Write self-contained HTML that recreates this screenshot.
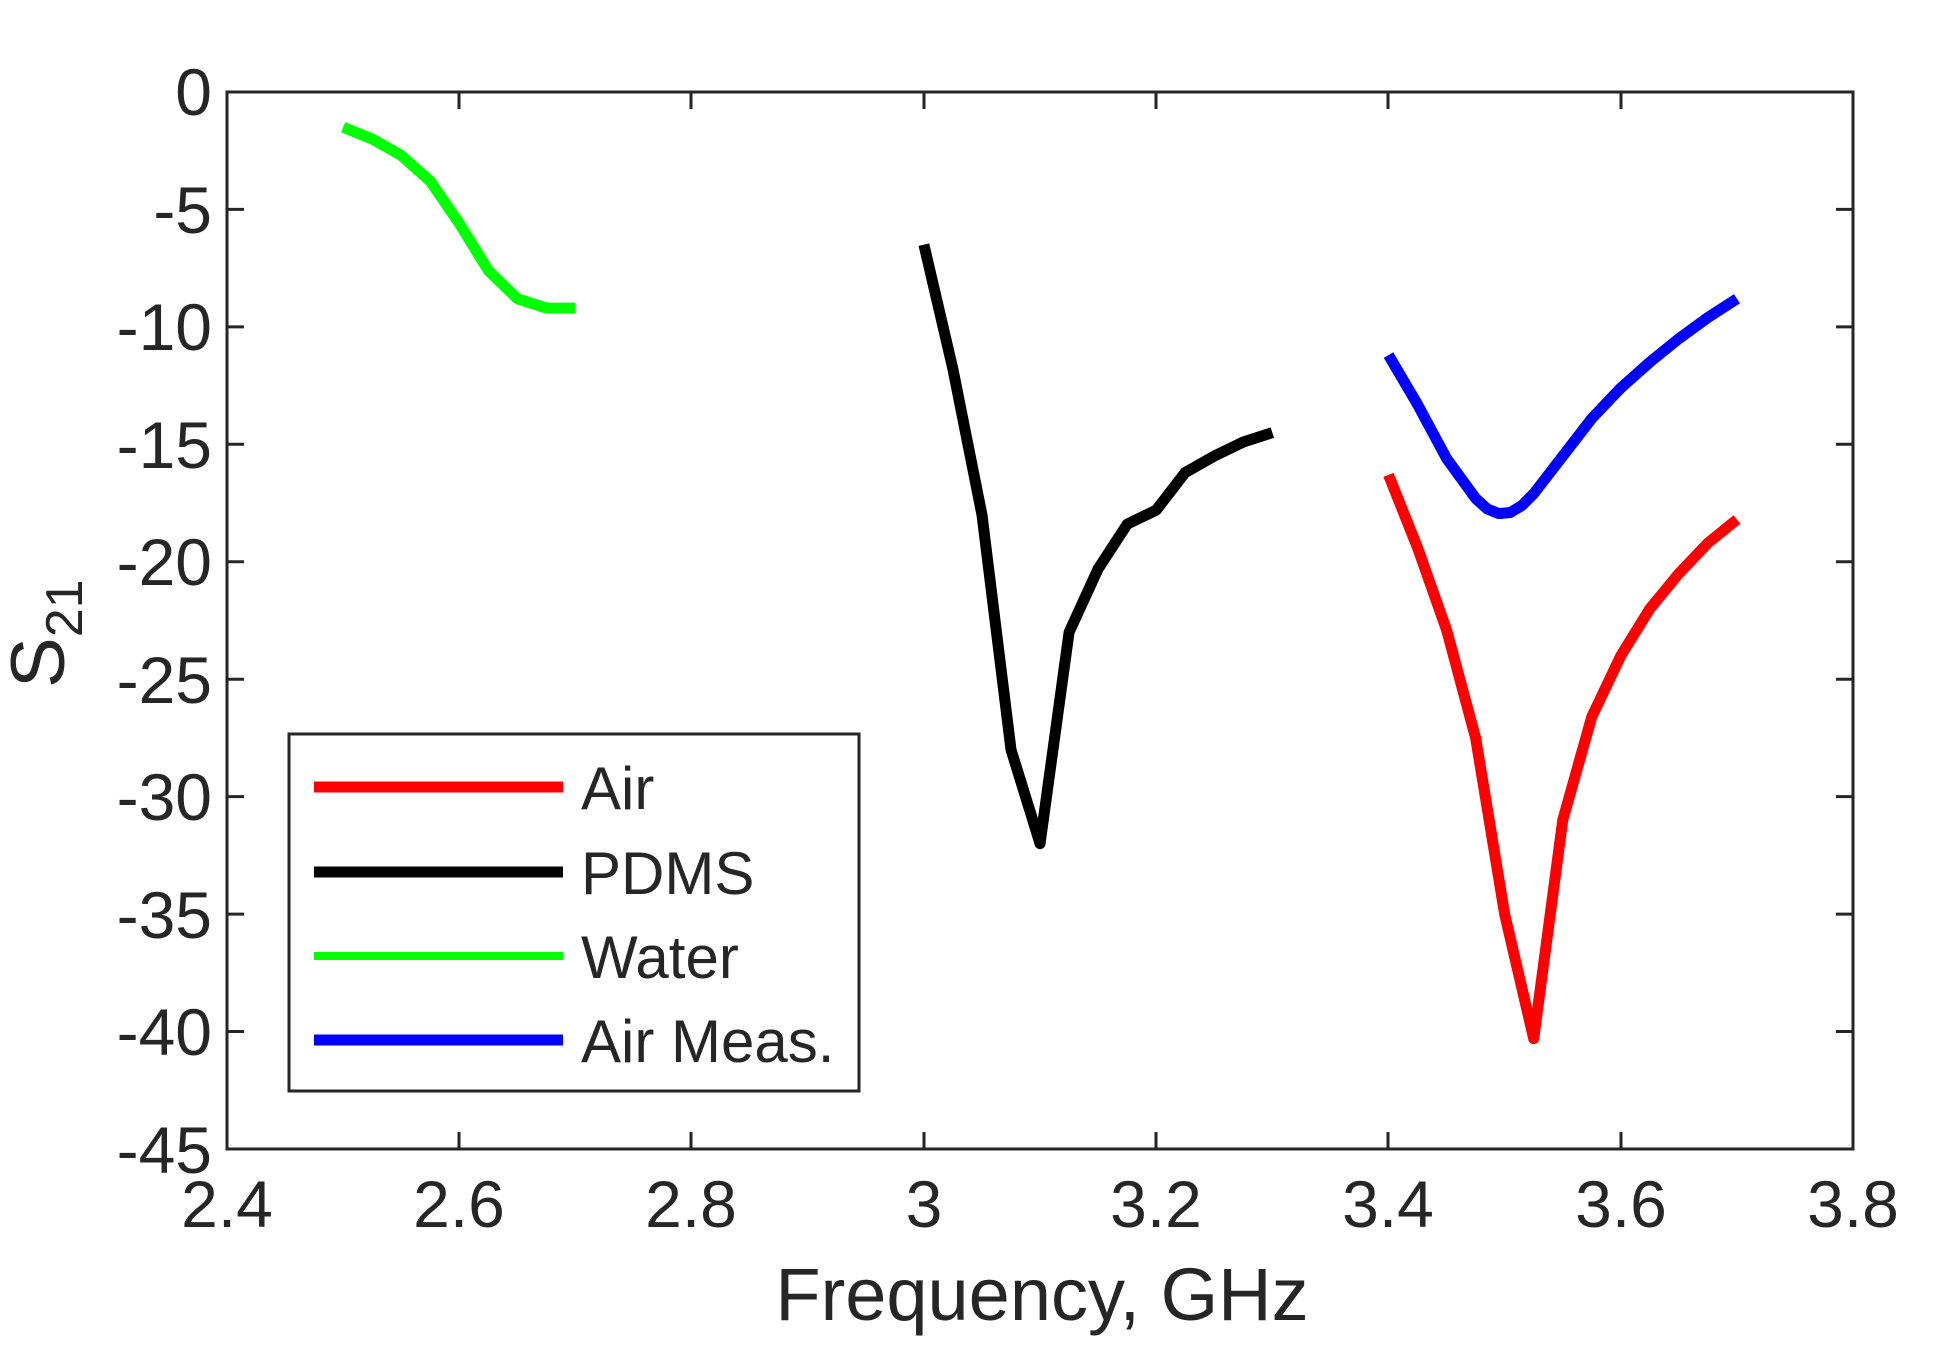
<!DOCTYPE html>
<html><head><meta charset="utf-8"><style>
html,body{margin:0;padding:0;background:#fff;}
svg{display:block;}
text{font-family:"Liberation Sans",Arial,sans-serif;fill:#262626;}
</style></head><body>
<svg width="1939" height="1368" viewBox="0 0 1939 1368" xmlns="http://www.w3.org/2000/svg">
<rect width="1939" height="1368" fill="#fff"/>
<g fill="none" stroke-linejoin="round" stroke-linecap="butt" transform="matrix(1161.5,0,0,-23.49,-2560.6,92)">
<polyline vector-effect="non-scaling-stroke" stroke="#00ff00" stroke-width="11" points="2.5,-1.5 2.525,-2 2.55,-2.7 2.575,-3.8 2.6,-5.6 2.625,-7.6 2.65,-8.8 2.675,-9.2 2.7,-9.2"/>
<polyline vector-effect="non-scaling-stroke" stroke="#000" stroke-width="11" points="3.0,-6.5 3.025,-11.8 3.05,-18 3.075,-28 3.1,-32 3.125,-23 3.15,-20.3 3.175,-18.4 3.2,-17.8 3.225,-16.2 3.25,-15.5 3.275,-14.9 3.3,-14.5"/>
<polyline vector-effect="non-scaling-stroke" stroke="#ff0000" stroke-width="11" points="3.4,-16.3 3.425,-19.4 3.45,-22.9 3.475,-27.5 3.5,-35 3.525,-40.3 3.55,-31 3.575,-26.6 3.6,-24 3.625,-22 3.65,-20.5 3.675,-19.2 3.7,-18.2"/>
<polyline vector-effect="non-scaling-stroke" stroke="#0000ff" stroke-width="11" points="3.4,-11.2 3.425,-13.3 3.45,-15.6 3.475,-17.3 3.485,-17.75 3.495,-17.95 3.505,-17.9 3.515,-17.6 3.525,-17.1 3.55,-15.5 3.575,-13.9 3.6,-12.6 3.625,-11.5 3.65,-10.5 3.675,-9.6 3.7,-8.8"/>
</g>
<rect x="227" y="92" width="1626" height="1057" fill="none" stroke="#262626" stroke-width="3"/>
<g stroke="#262626" stroke-width="3">
<path d="M459,1149v-17M691,1149v-17M924,1149v-17M1156,1149v-17M1388,1149v-17M1621,1149v-17
M459,92v17M691,92v17M924,92v17M1156,92v17M1388,92v17M1621,92v17"/>
<path d="M227,209.4h17M227,326.9h17M227,444.3h17M227,561.8h17M227,679.2h17M227,796.6h17M227,914.1h17M227,1031.5h17
M1853,209.4h-17M1853,326.9h-17M1853,444.3h-17M1853,561.8h-17M1853,679.2h-17M1853,796.6h-17M1853,914.1h-17M1853,1031.5h-17"/>
</g>
<g font-size="66" text-anchor="end">
<text x="212" y="115">0</text>
<text x="212" y="233">-5</text>
<text x="212" y="350">-10</text>
<text x="212" y="468">-15</text>
<text x="212" y="585">-20</text>
<text x="212" y="703">-25</text>
<text x="212" y="820">-30</text>
<text x="212" y="938">-35</text>
<text x="212" y="1055">-40</text>
<text x="212" y="1173">-45</text>
</g>
<g font-size="66" text-anchor="middle">
<text x="227" y="1227">2.4</text>
<text x="459" y="1227">2.6</text>
<text x="691" y="1227">2.8</text>
<text x="924" y="1227">3</text>
<text x="1156" y="1227">3.2</text>
<text x="1388" y="1227">3.4</text>
<text x="1621" y="1227">3.6</text>
<text x="1853" y="1227">3.8</text>
</g>
<text x="1042" y="1320" font-size="74" text-anchor="middle">Frequency, GHz</text>
<g transform="translate(64,688) rotate(-90)">
<text x="0" y="0" font-size="76">S<tspan font-size="52" dy="18">21</tspan></text>
</g>
<rect x="289" y="734" width="570" height="357" fill="#fff" stroke="#262626" stroke-width="3"/>
<g stroke-width="11">
<line x1="314" y1="787" x2="563" y2="787" stroke="#ff0000"/>
<line x1="314" y1="872" x2="563" y2="872" stroke="#000"/>
<line x1="314" y1="956" x2="563" y2="956" stroke="#00ff00" stroke-width="8"/>
<line x1="314" y1="1040" x2="563" y2="1040" stroke="#0000ff"/>
</g>
<g font-size="60">
<text x="581" y="809" fill="#000">Air</text>
<text x="581" y="894" fill="#000">PDMS</text>
<text x="581" y="978" fill="#000">Water</text>
<text x="581" y="1062" fill="#000">Air Meas.</text>
</g>
</svg>
</body></html>
